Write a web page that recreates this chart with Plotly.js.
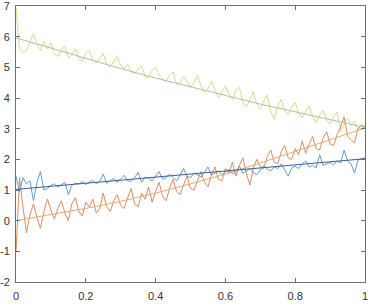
<!DOCTYPE html>
<html>
<head>
<meta charset="utf-8">
<script src="https://cdn.plot.ly/plotly-3.0.1.min.js"></script>
<style>html,body{margin:0;padding:0;background:#fff;}#chart{width:372px;height:305px;}</style>
</head>
<body>
<div id="chart"></div>
<script>
// x positions 0, 0.01, ..., 1 (101 samples)
const xNoisy = [];
for (let i = 0; i <= 100; i++) xNoisy.push(i / 100);

const blueNoisy = [
  1.45, 0.95, 1.40, 1.20, 1.30, 0.65, 1.25, 1.60, 1.00, 1.05,
  1.15, 1.20, 1.10, 1.18, 1.25, 0.85, 1.15, 1.22, 1.20, 1.28,
  1.18, 1.25, 1.32, 1.20, 1.28, 1.52, 1.22, 1.30, 1.38, 1.25,
  1.35, 1.48, 1.30, 1.28, 1.40, 1.58, 1.25, 1.42, 1.38, 1.30,
  1.45, 1.60, 1.35, 1.40, 1.52, 1.42, 1.30, 1.48, 1.70, 1.45,
  1.40, 1.55, 1.50, 1.42, 1.58, 1.75, 1.48, 1.55, 1.62, 1.50,
  1.58, 1.68, 1.52, 1.60, 1.78, 1.55, 1.62, 1.70, 1.58, 1.50,
  1.65, 1.80, 1.68, 1.62, 1.75, 1.70, 1.85, 1.65, 1.45, 1.72,
  1.78, 1.70, 1.85, 1.95, 1.75, 1.80, 1.72, 2.15, 1.80, 1.85,
  1.90, 1.82, 1.95, 1.88, 2.30, 1.95, 1.85, 1.55, 1.98, 2.02,
  2.05
];
const orangeNoisy = [
  -1.05, 1.40, 0.45, -0.40, 0.20, 0.55, 0.10, -0.25, 0.30, 0.70,
  0.35, 0.05, 0.40, 0.65, 0.25, 0.00, 0.55, 0.75, 0.30, 0.15,
  0.60, 0.45, 0.70, 0.25, 0.40, 0.90, 0.45, 0.30, 0.65, 0.85,
  0.50, 0.40, 0.75, 1.05, 0.55, 0.45, 0.90, 0.70, 1.10, 0.60,
  0.95, 1.25, 0.80, 0.65, 1.05, 1.35, 0.95, 0.85, 1.15, 1.45,
  1.05, 1.00, 1.30, 1.60, 1.25, 1.10, 1.50, 1.75, 1.35, 1.30,
  1.70, 1.55, 1.90, 1.45, 1.80, 2.05, 1.55, 1.16, 1.70, 2.00,
  1.75, 1.70, 2.10, 2.30, 1.90, 1.85, 2.25, 2.45, 2.05, 2.00,
  2.35, 2.15, 2.60, 2.20, 2.50, 2.75, 2.35, 2.30, 2.70, 2.90,
  2.50, 2.45, 2.80, 3.05, 3.38, 2.75, 2.65, 2.53, 3.00, 3.10,
  3.05
];
const yellowNoisy = [
  6.95, 5.60, 5.48, 5.55, 5.80, 6.10, 5.75, 5.55, 5.85, 5.60,
  5.80, 5.45, 5.35, 5.55, 5.70, 5.30, 5.40, 5.62, 5.28, 5.20,
  5.45, 5.55, 5.25, 5.15, 5.30, 5.45, 5.10, 5.00, 5.20, 5.35,
  5.05, 4.95, 5.10, 4.85, 4.80, 4.95, 5.05, 4.70, 4.65, 4.90,
  5.00, 4.75, 4.60, 4.55, 4.75, 4.85, 4.45, 4.50, 4.70, 4.55,
  4.35, 4.50, 4.75, 4.40, 4.20, 4.30, 4.55, 4.25, 4.00, 4.20,
  4.40, 4.15, 3.95, 4.25, 4.35, 3.85, 3.70, 3.95, 4.20, 3.80,
  3.65, 3.90, 4.10, 3.55, 3.30, 3.75, 3.95, 3.60, 3.45, 3.70,
  3.85, 3.50, 3.35, 3.55, 3.75, 3.40, 3.20, 3.45, 3.60, 3.30,
  3.15, 3.40, 3.55, 2.90, 3.15, 3.35, 3.10, 3.25, 2.95, 3.15,
  3.05
];

// smooth fitted curves, sampled every 0.1
const xFit = [0, 0.1, 0.2, 0.3, 0.4, 0.5, 0.6, 0.7, 0.8, 0.9, 1.0];
const blueFit = [1.02, 1.12, 1.22, 1.32, 1.42, 1.52, 1.62, 1.72, 1.82, 1.92, 2.02];
const orangeFit = [0.0, 0.19, 0.40, 0.63, 0.90, 1.20, 1.52, 1.88, 2.26, 2.64, 3.02];
const yellowFit = [5.96, 5.62, 5.28, 4.96, 4.65, 4.36, 4.08, 3.80, 3.55, 3.30, 3.04];

const xTicks = [0, 0.2, 0.4, 0.6, 0.8, 1];
const yTicks = [-2, -1, 0, 1, 2, 3, 4, 5, 6, 7];

function line(x, y, color) {
  return {x: x, y: y, type: 'scatter', mode: 'lines', line: {color: color, width: 1}, hoverinfo: 'skip'};
}

const data = [
  line(xNoisy, yellowNoisy, '#d9db8c'),
  line(xNoisy, orangeNoisy, '#df8a62'),
  line(xNoisy, blueNoisy, '#5c9fd2'),
  line(xFit, yellowFit, '#9fcaa6'),
  line(xFit, orangeFit, '#e6ab74'),
  line(xFit, blueFit, '#3e5c94')
];

const axisCommon = {
  showgrid: false, zeroline: false, showline: true, linecolor: '#6e6e6e', linewidth: 1,
  mirror: 'ticks', ticks: 'inside', ticklen: 4, tickcolor: '#6e6e6e', tickwidth: 1,
  ticklabeloverflow: 'allow',
  tickfont: {family: 'Liberation Sans, Arial, sans-serif', size: 11, color: '#333'}
};

const layout = {
  width: 372, height: 305,
  margin: {l: 16, r: 7, t: 6, b: 23},
  paper_bgcolor: '#fff', plot_bgcolor: '#fff',
  showlegend: false,
  xaxis: Object.assign({}, axisCommon, {range: [0, 1], tickvals: xTicks, ticktext: xTicks.map(String), ticklabelstandoff: 4}),
  yaxis: Object.assign({}, axisCommon, {range: [-2, 7], tickvals: yTicks, ticktext: yTicks.map(String), ticklabelstandoff: 3})
};

Plotly.newPlot('chart', data, layout, {staticPlot: true, displayModeBar: false});
</script>
</body>
</html>
